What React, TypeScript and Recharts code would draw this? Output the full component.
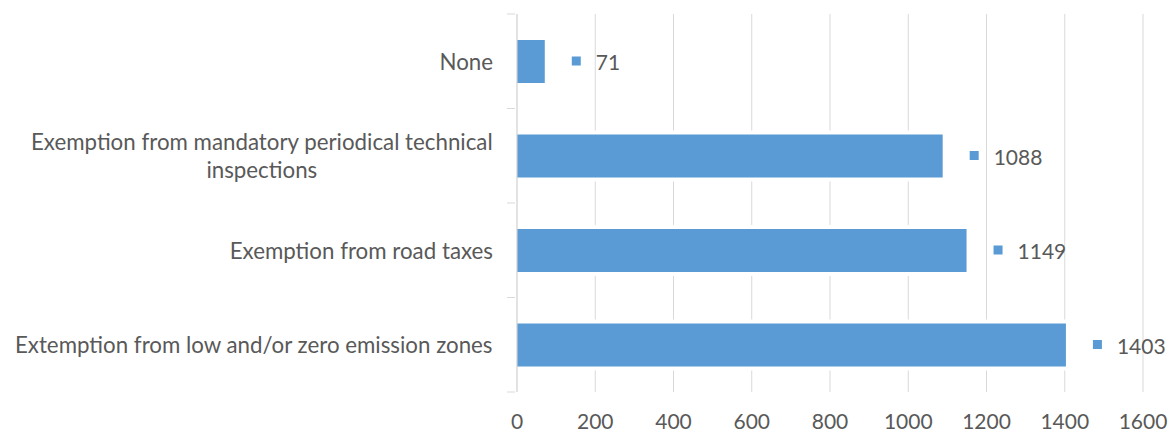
import * as React from "react"
import { BarChart, Bar, XAxis, YAxis, CartesianGrid, LabelList } from "recharts"

const categories = [
  "None",
  "Exemption from mandatory periodical technical\ninspections",
  "Exemption from road taxes",
  "Extemption from low and/or zero emission zones",
]
const values = [71, 1088, 1149, 1403]
const xTicks = [0, 200, 400, 600, 800, 1000, 1200, 1400, 1600]

const data = categories.map((name, i) => ({ name, value: values[i] }))

const FONT = "Lato, 'Open Sans', sans-serif"
const CAT_SIZE = 22.3
const NUM_SIZE = 21
const TEXT = "#595959"
const BLUE = "#5B9BD5"
const GRID = "#D9D9D9"

const W = 1175
const H = 433
const TOP = 14
const XAXIS_H = 41
const Y_W = 517
const BAND = (H - TOP - XAXIS_H) / categories.length

let canvas: HTMLCanvasElement | null = null
function measure(text: string) {
  if (!canvas) canvas = document.createElement("canvas")
  const ctx = canvas.getContext("2d")!
  ctx.font = `${CAT_SIZE}px ${FONT}`
  return ctx.measureText(text).width
}

const CategoryTick = (props: any) => {
  const { x, y, payload, index } = props
  const lines = String(payload.value).split("\n")
  const maxW = Math.max(...lines.map(measure))
  const cx = x - 22 - maxW / 2
  const lh = 28
  const y0 = y - ((lines.length - 1) * lh) / 2
  return (
    <g>
      <line x1={x - 8} x2={x} y1={y - BAND / 2} y2={y - BAND / 2} stroke={GRID} />
      {index === categories.length - 1 && (
        <line x1={x - 8} x2={x} y1={y + BAND / 2} y2={y + BAND / 2} stroke={GRID} />
      )}
      {lines.map((l, i) => (
        <text
          key={i}
          x={cx}
          y={y0 + i * lh}
          textAnchor="middle"
          dominantBaseline="central"
          fill={TEXT}
          fontSize={CAT_SIZE}
          fontFamily={FONT}
        >
          {l}
        </text>
      ))}
    </g>
  )
}

// bar with a white gap around it, like the original
const HaloBar = (props: any) => {
  const { x, y, width, height, fill } = props
  return (
    <g>
      <rect x={x + 1} y={y - 4} width={width + 3} height={height + 8} fill="#fff" />
      <rect x={x} y={y} width={width} height={height} fill={fill} />
    </g>
  )
}

const ValueLabel = (props: any) => {
  const { x, y, width, height, value } = props
  const cy = y + height / 2
  return (
    <g>
      <rect x={x + width + 27} y={cy - 5} width={9} height={9} fill={BLUE} />
      <text
        x={x + width + 51}
        y={cy}
        dominantBaseline="central"
        fill={TEXT}
        fontSize={NUM_SIZE}
        fontFamily={FONT}
      >
        {value}
      </text>
    </g>
  )
}

export default function App() {
  return (
    <div style={{ position: "absolute", left: 0, top: 0, width: W, height: H, background: "#fff" }}>
      <BarChart
        width={W}
        height={H}
        data={data}
        layout="vertical"
        margin={{ top: TOP, right: 32, bottom: 0, left: 0 }}
        barCategoryGap={0}
      >
        <CartesianGrid horizontal={false} stroke={GRID} />
        <XAxis
          type="number"
          domain={[0, 1600]}
          ticks={xTicks}
          axisLine={false}
          tickLine={false}
          tickSize={20}
          height={XAXIS_H}
          interval={0}
          tick={{ fill: TEXT, fontSize: NUM_SIZE, fontFamily: FONT }}
        />
        <Bar dataKey="value" fill={BLUE} barSize={43} shape={HaloBar} isAnimationActive={false}>
          <LabelList dataKey="value" content={ValueLabel} />
        </Bar>
        <YAxis
          type="category"
          dataKey="name"
          width={Y_W}
          axisLine={{ stroke: GRID }}
          tickLine={false}
          tickSize={0}
          tick={CategoryTick}
          interval={0}
        />
      </BarChart>
    </div>
  )
}
